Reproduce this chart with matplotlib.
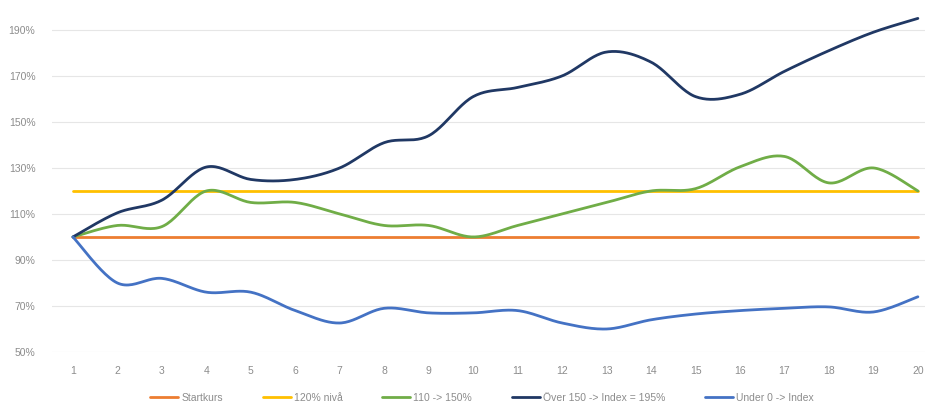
import numpy as np
import matplotlib
matplotlib.use("Agg")
import matplotlib.pyplot as plt
from matplotlib.ticker import FuncFormatter

periods = list(range(1, 21))
startkurs = [100] * 20
niva_120 = [120] * 20
green_110_150 = [100, 105, 104.5, 120, 115, 115, 110, 105, 105, 100,
                 105, 110, 115, 120, 121, 130.5, 135, 123.5, 130, 120]
over_150 = [100, 110.5, 116, 130.4, 125, 125, 130, 141, 144, 161,
            165, 170, 180.4, 176, 161, 162, 172, 181, 189, 195]
under_0 = [100, 80, 82, 76, 76, 68, 62.6, 69, 67, 67,
           68, 62.6, 60, 64, 66.5, 68, 69, 69.6, 67.4, 74]

labels = ["Startkurs", "120% nivå", "110 -> 150%",
          "Över 150 -> Index = 195%", "Under 0 -> Index"]
colors = ["#ED7D31", "#FFC000", "#70AD47", "#203864", "#4472C4"]
yticks = [50, 70, 90, 110, 130, 150, 170, 190]


def smooth(x, y, n=24, tension=0.5):
    x = np.asarray(x, float)
    y = np.asarray(y, float)
    px = np.concatenate([[x[0]], x, [x[-1]]])
    py = np.concatenate([[y[0]], y, [y[-1]]])
    xs, ys = [], []
    t = np.linspace(0, 1, n, endpoint=False)
    for i in range(1, len(px) - 2):
        p0, p1, p2, p3 = (np.array([px[j], py[j]]) for j in (i - 1, i, i + 1, i + 2))
        m1 = tension * (p2 - p0)
        m2 = tension * (p3 - p1)
        h00 = 2 * t**3 - 3 * t**2 + 1
        h10 = t**3 - 2 * t**2 + t
        h01 = -2 * t**3 + 3 * t**2
        h11 = t**3 - t**2
        pts = (np.outer(h00, p1) + np.outer(h10, m1) + np.outer(h01, p2) + np.outer(h11, m2))
        xs.append(pts[:, 0])
        ys.append(pts[:, 1])
    xs.append([x[-1]])
    ys.append([y[-1]])
    return np.concatenate(xs), np.concatenate(ys)


plt.rcParams['font.family'] = ['Liberation Sans', 'DejaVu Sans']
fig = plt.figure(figsize=(9.25, 4.12), dpi=100)
W, H = 925, 412
left_px, bottom_px = 52, 352
ax = fig.add_axes([left_px / W, 1 - bottom_px / H, 1 - left_px / W, bottom_px / H])

series = [startkurs, niva_120, green_110_150, over_150, under_0]
for vals, lab, col in zip(series, labels, colors):
    sx, sy = smooth(periods, vals)
    ax.plot(sx, sy, color=col, lw=2.0, label=lab, solid_capstyle='round')

ax.set_xlim(0.53, 20.16)
ax.set_ylim(50, 203)
ax.set_yticks(yticks)
ax.yaxis.set_major_formatter(FuncFormatter(lambda v, p: f"{int(v)}%"))
ax.set_xticks(periods)
ax.set_xticklabels([str(p) for p in periods])
ax.grid(axis='y', color='#E6E6E6', lw=0.8)
ax.set_axisbelow(True)
for s in ax.spines.values():
    s.set_visible(False)
ax.tick_params(axis='both', length=0, colors='#8C8C8C', labelsize=7.5)
ax.tick_params(axis='x', pad=10)
ax.tick_params(axis='y', pad=12)

fig.legend(loc='center', bbox_to_anchor=(482 / W, 1 - 398 / H), ncol=5,
           frameon=False, fontsize=7.5, handlelength=2.7, columnspacing=3.8,
           handletextpad=0.3, labelcolor='#8C8C8C')

fig.savefig("out.png", dpi=100)
